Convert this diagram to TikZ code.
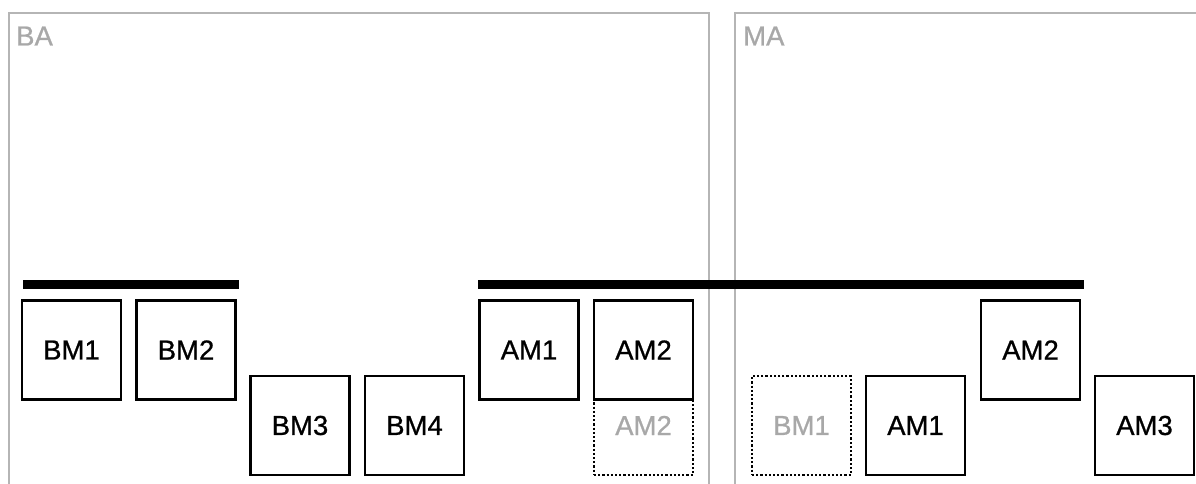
\documentclass[tikz,border=0pt]{standalone}
\usepackage{fontspec}
\setmainfont{Liberation Sans}
\newfontfamily\labelfont[FakeBold=0.8]{Liberation Sans}
\definecolor{framegray}{HTML}{B5B5B5}
\definecolor{textgray}{HTML}{A8A8A8}
\tikzset{
  frameline/.style={draw=framegray, line width=2pt},
  framelabel/.style={anchor=base west, inner sep=0pt, text=textgray, font=\labelfont\fontsize{27.5}{30}\selectfont},
  bar/.style={line width=9pt},
  box/.style={draw=black, fill=white, line width=2.5pt, minimum width=99pt, minimum height=99pt, inner sep=0pt, font=\labelfont\fontsize{27.5}{30}\selectfont},
  ghost/.style={draw=black, line width=2.4pt, dash pattern=on 2.2pt off 2pt, minimum width=99pt, minimum height=99pt, inner sep=0pt, text=textgray, font=\labelfont\fontsize{27.5}{30}\selectfont}
}
\begin{document}
\begin{tikzpicture}[x=1pt,y=-1pt]
\useasboundingbox (0,0) rectangle (1196,484);
% frames
\draw[frameline] (9,484) -- (9,13) -- (709,13) -- (709,484);
\draw[frameline] (735,484) -- (735,13) -- (1197,13);
\node[framelabel] (ba) at (16,45.5) {BA};
\node[framelabel] (ma) at (743,45.5) {MA};
% bars
\draw[bar] (23,284.5) -- (239,284.5);
\draw[bar] (478,284.5) -- (1084,284.5);
% BA boxes
\node[box] (bm1) at (71.5,350) {BM1};
\node[box] (bm2) at (186,350) {BM2};
\node[box] (bm3) at (300,425.5) {BM3};
\node[box] (bm4) at (414.5,425.5) {BM4};
\node[box] (am1) at (529,350) {AM1};
\node[ghost] (am2g) at (643.5,425.5) {AM2};
\node[box] (am2) at (643.5,350) {AM2};
% MA boxes
\node[ghost] (bm1g) at (801.5,425.5) {BM1};
\node[box] (maam1) at (915.5,425.5) {AM1};
\node[box] (maam2) at (1030.5,350) {AM2};
\node[box] (maam3) at (1144.5,425.5) {AM3};
\end{tikzpicture}
\end{document}
